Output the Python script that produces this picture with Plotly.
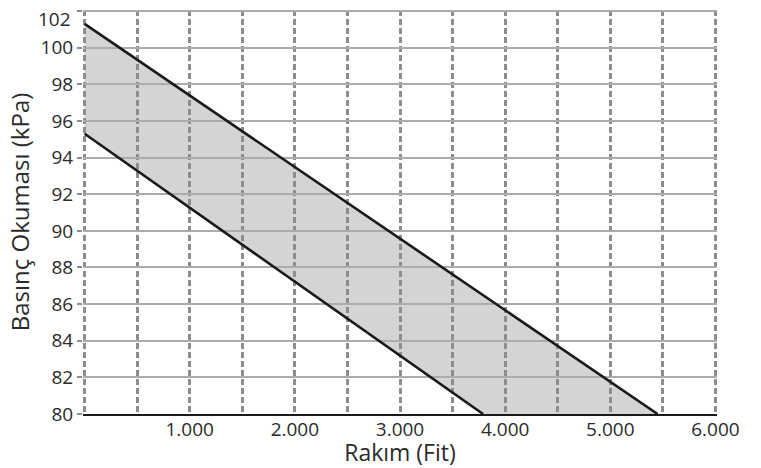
import plotly.graph_objects as go

# Data
upper_x = [0, 5450]
upper_y = [101.3, 80]
lower_x = [0, 3790]
lower_y = [95.3, 80]

x_tickvals = [0, 500, 1000, 1500, 2000, 2500, 3000, 3500, 4000, 4500, 5000, 5500, 6000]
x_ticktext = ["", "", "1.000", "", "2.000", "", "3.000", "", "4.000", "", "5.000", "", "6.000"]
y_tickvals = [80, 82, 84, 86, 88, 90, 92, 94, 96, 98, 100, 102]
y_ticktext = ["80", "82", "84", "86", "88", "90", "92", "94", "96", "98", "100", ""]
top_label = "102"

band_x = upper_x + lower_x[::-1]
band_y = upper_y + lower_y[::-1]
band_path = "M " + " L ".join(f"{x},{y}" for x, y in zip(band_x, band_y)) + " Z"

fig = go.Figure()
# shaded band drawn beneath gridlines
fig.add_shape(type="path", path=band_path, xref="x", yref="y",
              fillcolor="#d3d4d6", line=dict(width=0), layer="below")
fig.add_trace(go.Scatter(x=upper_x, y=upper_y, mode="lines",
                         line=dict(color="#1a1a1a", width=2.6), hoverinfo="skip"))
fig.add_trace(go.Scatter(x=lower_x, y=lower_y, mode="lines",
                         line=dict(color="#1a1a1a", width=2.6), hoverinfo="skip"))

# top tick label sits slightly below its gridline, as in the reference
fig.add_annotation(text=top_label, xref="paper", x=0, yref="y", y=y_tickvals[-1],
                   xanchor="right", yanchor="middle", xshift=-10, yshift=-8,
                   showarrow=False, font=dict(size=19, color="#2b2b2b"))

font = "Open Sans, Segoe UI, sans-serif"
fig.update_layout(
    width=761, height=468,
    margin=dict(l=83, r=44, t=10, b=54),
    paper_bgcolor="white", plot_bgcolor="white",
    showlegend=False,
    font=dict(family=font, size=19, color="#2b2b2b"),
    xaxis=dict(range=[-15, 6015], tickvals=x_tickvals, ticktext=x_ticktext,
               showgrid=True, gridcolor="#8d8d8f", gridwidth=2.6, griddash="6px,3px",
               zeroline=False, showline=True, linecolor="#1a1a1a", linewidth=2,
               ticks="", automargin=False, ticklabeloverflow="allow",
               ticklabelstandoff=-3,
               title=dict(text="Rakım (Fit)", font=dict(size=23), standoff=0),
               tickfont=dict(size=19)),
    yaxis=dict(range=[80, 102.06], tickvals=y_tickvals, ticktext=y_ticktext,
               showgrid=True, gridcolor="#acacac", gridwidth=1.5,
               zeroline=False, showline=False, automargin=False,
               ticklabeloverflow="allow",
               ticks="outside", ticklen=5, tickcolor="#8d8d8f", tickwidth=1.5,
               title=dict(text="Basınç Okuması (kPa)", font=dict(size=24), standoff=4),
               tickfont=dict(size=19)),
)

fig.write_html("out.html", config={"displayModeBar": False},
               post_script="document.body.style.margin='0';")
